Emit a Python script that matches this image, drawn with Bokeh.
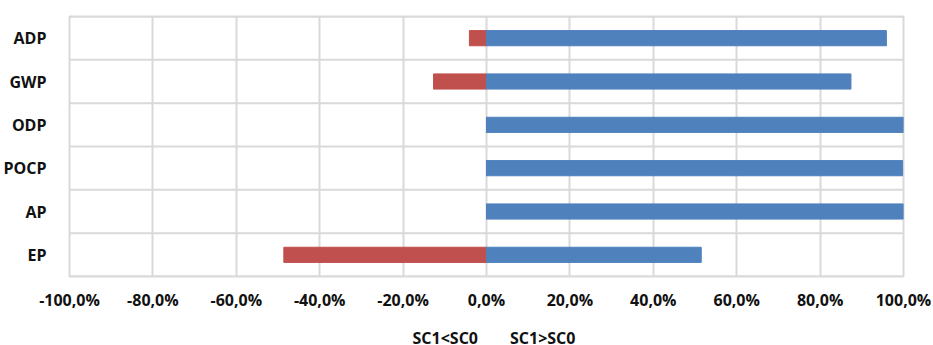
from bokeh.plotting import figure
from bokeh.layouts import column
from bokeh.models import FactorRange, Range1d, FixedTicker, Span, Legend, LegendItem
from bokeh.embed import file_html
from bokeh.resources import INLINE

categories = ["ADP", "GWP", "ODP", "POCP", "AP", "EP"]
sc1_lt_sc0 = [-4.1, -12.7, 0.0, 0.0, 0.0, -48.6]
sc1_gt_sc0 = [95.9, 87.4, 100.0, 99.8, 100.0, 51.5]
x_ticks = [-100, -80, -60, -40, -20, 0, 20, 40, 60, 80, 100]
x_tick_labels = ["-100,0%", "-80,0%", "-60,0%", "-40,0%", "-20,0%", "0,0%",
                 "20,0%", "40,0%", "60,0%", "80,0%", "100,0%"]
series_names = ["SC1<SC0", "SC1>SC0"]

RED = "#C0504D"
BLUE = "#4F81BD"
GRID = "#D9D9D9"
FONT = "Open Sans"
TXT = "#111111"

p = figure(frame_width=834, frame_height=260,
           y_range=FactorRange(factors=categories[::-1]),
           x_range=Range1d(-100, 100),
           output_backend="svg", toolbar_location=None,
           min_border_left=69, min_border_right=30,
           min_border_top=16, min_border_bottom=50)
p.outline_line_color = GRID
p.outline_line_width = 2

p.hbar(y=categories, left=0, right=sc1_lt_sc0, height=0.35,
       fill_color=RED, line_color=RED)
p.hbar(y=categories, left=0, right=sc1_gt_sc0, height=0.35,
       fill_color=BLUE, line_color=BLUE)

p.xaxis.ticker = FixedTicker(ticks=x_ticks)
p.xaxis.major_label_overrides = {t: l for t, l in zip(x_ticks, x_tick_labels)}
p.xgrid.ticker = FixedTicker(ticks=x_ticks)
p.xgrid.grid_line_color = GRID
p.xgrid.grid_line_width = 2
p.ygrid.grid_line_color = None

for i in range(len(categories) + 1):
    p.add_layout(Span(location=i, dimension="width", line_color=GRID, line_width=2,
                      level="underlay"))

for ax in (p.xaxis, p.yaxis):
    ax.axis_line_color = None
    ax.major_tick_line_color = None
    ax.minor_tick_line_color = None
    ax.major_label_text_font = FONT
    ax.major_label_text_font_style = "bold"
    ax.major_label_text_font_size = "16px"
    ax.major_label_text_color = TXT
p.xaxis.major_label_standoff = 6
p.yaxis.major_label_standoff = 17

# legend strip below the chart
lf = figure(width=933, height=24, output_backend="svg", toolbar_location=None,
            x_range=Range1d(0, 1), y_range=Range1d(0, 1),
            x_axis_type=None, y_axis_type=None,
            min_border_left=0, min_border_right=0, min_border_top=0, min_border_bottom=0)
lf.outline_line_color = None
lf.xgrid.visible = False
lf.ygrid.visible = False
lr_red = lf.hbar(y=[], left=[], right=[], height=0.5, fill_color=RED, line_color=RED)
lr_blue = lf.hbar(y=[], left=[], right=[], height=0.5, fill_color=BLUE, line_color=BLUE)

legend = Legend(items=[LegendItem(label=series_names[0], renderers=[lr_red]),
                       LegendItem(label=series_names[1], renderers=[lr_blue])],
                orientation="horizontal", location="center",
                label_text_font=FONT, label_text_font_style="bold",
                label_text_font_size="16px", label_text_color=TXT,
                glyph_width=11, glyph_height=11, spacing=16, padding=0,
                margin=0, border_line_color=None, background_fill_alpha=0)
lf.add_layout(legend)

layout = column(p, lf, spacing=0)
open("out.html", "w").write(file_html(layout, INLINE))
